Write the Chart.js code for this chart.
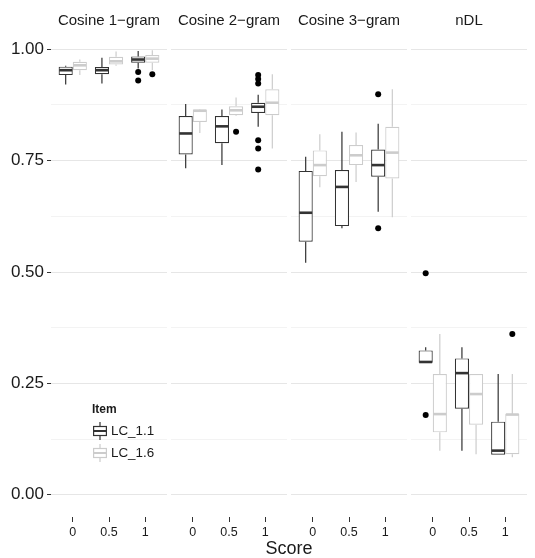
<!DOCTYPE html>
<html>
<head>
<meta charset="utf-8">
<script src="https://cdn.jsdelivr.net/npm/chart.js@4.4.1/dist/chart.umd.min.js"></script>
<style>
  body { margin: 0; background: #fff; font-family: 'Liberation Sans', Arial, sans-serif; }
  #wrap { position: relative; width: 535px; height: 558px; background: #fff; }
  canvas { position: absolute; top: 0; }
  .strip { position: absolute; top: 12px; width: 116px; text-align: center; font-size: 15px; line-height: 16px; color: #1a1a1a; white-space: nowrap; }
  .lab { position: absolute; color: #1a1a1a; white-space: nowrap; }
</style>
</head>
<body>
<div id="wrap">
  <canvas id="c0" width="167" height="558" style="left:0px"></canvas>
  <canvas id="c1" width="116" height="558" style="left:171px"></canvas>
  <canvas id="c2" width="116" height="558" style="left:291px"></canvas>
  <canvas id="c3" width="116" height="558" style="left:411px"></canvas>
</div>
<script>
// categories
const painelTitulos = ['Cosine 1−gram', 'Cosine 2−gram', 'Cosine 3−gram', 'nDL'];
const scoreLabels = ['0', '0.5', '1'];
const itens = ['LC_1.1', 'LC_1.6'];
const yMajor = [0, 0.25, 0.5, 0.75, 1];
const yMinor = [0.125, 0.375, 0.625, 0.875];

// caixas: [min, q1, mediana, q3, max] para score 0, 0.5, 1
const cos1_lc11 = [[0.921, 0.942, 0.953, 0.961, 0.963], [0.923, 0.944, 0.953, 0.960, 0.981], [0.957, 0.970, 0.977, 0.984, 0.996]];
const cos1_lc16 = [[0.942, 0.953, 0.964, 0.972, 0.977], [0.963, 0.966, 0.973, 0.983, 0.995], [0.953, 0.970, 0.979, 0.987, 0.998]];
const cos2_lc11 = [[0.733, 0.764, 0.811, 0.850, 0.877], [0.740, 0.789, 0.827, 0.850, 0.865], [0.826, 0.857, 0.871, 0.880, 0.898]];
const cos2_lc16 = [[0.812, 0.837, 0.862, 0.865, 0.866], [0.850, 0.852, 0.863, 0.872, 0.892], [0.777, 0.852, 0.880, 0.910, 0.944]];
const cos3_lc11 = [[0.521, 0.568, 0.633, 0.727, 0.759], [0.598, 0.603, 0.691, 0.729, 0.815], [0.635, 0.714, 0.740, 0.775, 0.833]];
const cos3_lc16 = [[0.690, 0.715, 0.740, 0.773, 0.809], [0.702, 0.740, 0.762, 0.785, 0.813], [0.623, 0.710, 0.768, 0.826, 0.910]];
const ndl_lc11 = [[0.297, 0.296, 0.298, 0.324, 0.331], [0.099, 0.193, 0.273, 0.306, 0.331], [0.090, 0.090, 0.099, 0.164, 0.271]];
const ndl_lc16 = [[0.099, 0.140, 0.181, 0.271, 0.361], [0.091, 0.157, 0.226, 0.271, 0.271], [0.084, 0.091, 0.180, 0.181, 0.271]];

// outliers por score
const cos1_lc11_out = [[], [], [0.949, 0.930]];
const cos1_lc16_out = [[], [], [0.944]];
const cos2_lc11_out = [[], [], [0.942, 0.933, 0.923, 0.796, 0.777, 0.730]];
const cos2_lc16_out = [[], [0.815], []];
const cos3_lc11_out = [[], [], [0.899, 0.598]];
const cos3_lc16_out = [[], [], []];
const ndl_lc11_out = [[0.497, 0.179], [], []];
const ndl_lc16_out = [[], [], [0.361]];

const caixas = [[cos1_lc11, cos1_lc16], [cos2_lc11, cos2_lc16], [cos3_lc11, cos3_lc16], [ndl_lc11, ndl_lc16]];
const outliers = [[cos1_lc11_out, cos1_lc16_out], [cos2_lc11_out, cos2_lc16_out], [cos3_lc11_out, cos3_lc16_out], [ndl_lc11_out, ndl_lc16_out]];
const cores = ['#333333', '#cccccc'];
const fonte = "'Liberation Sans', Arial, sans-serif";

// desenha bigodes, medianas e outliers em cima das barras flutuantes
const boxplotExtras = {
  id: 'boxplotExtras',
  afterDatasetsDraw(chart) {
    const ctx = chart.ctx;
    const y = chart.scales.y;
    chart.data.datasets.forEach((ds, di) => {
      const meta = chart.getDatasetMeta(di);
      meta.data.forEach((bar, i) => {
        const s = ds.stats[i];
        const half = bar.width / 2;
        ctx.save();
        ctx.strokeStyle = ds.borderColor;
        ctx.lineWidth = 1.2;
        ctx.beginPath();
        ctx.moveTo(bar.x, y.getPixelForValue(s[3]));
        ctx.lineTo(bar.x, y.getPixelForValue(s[4]));
        ctx.moveTo(bar.x, y.getPixelForValue(s[1]));
        ctx.lineTo(bar.x, y.getPixelForValue(s[0]));
        ctx.stroke();
        ctx.lineWidth = 2.6;
        ctx.beginPath();
        ctx.moveTo(bar.x - half + 0.6, y.getPixelForValue(s[2]));
        ctx.lineTo(bar.x + half - 0.6, y.getPixelForValue(s[2]));
        ctx.stroke();
        ctx.fillStyle = '#000';
        ds.outliers[i].forEach(v => {
          ctx.beginPath();
          ctx.arc(bar.x, y.getPixelForValue(v), 3, 0, Math.PI * 2);
          ctx.fill();
        });
        ctx.restore();
      });
    });
  }
};

function criarPainel(p) {
  const primeiro = p === 0;
  const datasets = itens.map((item, k) => ({
    label: item,
    data: caixas[p][k].map((s, i) => ({ x: i, y: [s[1], s[3]] })),
    stats: caixas[p][k],
    outliers: outliers[p][k],
    backgroundColor: '#ffffff',
    borderColor: cores[k],
    borderWidth: 1.2,
    borderSkipped: false,
    categoryPercentage: 0.78,
    barPercentage: 1
  }));

  new Chart(document.getElementById('c' + p), {
    type: 'bar',
    data: { datasets },
    options: {
      responsive: false,
      animation: false,
      devicePixelRatio: 1,
      layout: { padding: { top: 27, left: 0, right: 0, bottom: 0 } },
      plugins: { legend: { display: false }, tooltip: { enabled: false }, title: { display: false } },
      scales: {
        x: {
          type: 'linear',
          min: -0.6,
          max: 2.6,
          offset: false,
          afterBuildTicks: (scale) => { scale.ticks = [0, 1, 2].map(v => ({ value: v })); },
          afterFit: (scale) => { scale.height = 41; },
          border: { display: false },
          grid: { display: true, offset: false, drawOnChartArea: false, drawTicks: true, tickLength: 5, tickColor: '#333', tickWidth: 1 },
          ticks: {
            autoSkip: false, maxRotation: 0, padding: 3,
            color: '#1a1a1a', font: { family: fonte, size: 12.5 },
            callback: (v) => scoreLabels[v]
          }
        },
        y: {
          min: -0.05,
          max: 1.05,
          afterBuildTicks: (scale) => {
            scale.ticks = yMajor.concat(yMinor).sort((a, b) => a - b).map(v => ({ value: v }));
          },
          afterFit: (scale) => { scale.width = primeiro ? 51 : 0; },
          border: { display: false },
          grid: {
            color: (c) => yMajor.includes(c.tick.value) ? '#e6e6e6' : '#f3f3f3',
            lineWidth: 1,
            drawTicks: primeiro,
            tickLength: 4,
            tickColor: (c) => yMajor.includes(c.tick.value) ? '#333' : 'rgba(0,0,0,0)'
          },
          ticks: {
            display: primeiro,
            padding: 3,
            color: '#1a1a1a',
            font: { family: fonte, size: 17 },
            callback: (v) => yMajor.includes(v) ? v.toFixed(2) : ''
          }
        }
      }
    },
    plugins: [boxplotExtras]
  });
}

painelTitulos.forEach((t, p) => criarPainel(p));

// textos em HTML: faixas, eixo e legenda
const wrap = document.getElementById('wrap');
const esquerdas = [51, 171, 291, 411];
painelTitulos.forEach((t, p) => {
  const d = document.createElement('div');
  d.className = 'strip';
  d.style.left = esquerdas[p] + 'px';
  d.textContent = t;
  wrap.appendChild(d);
});

function addTexto(txt, left, top, css) {
  const d = document.createElement('div');
  d.className = 'lab';
  d.style.left = left + 'px';
  d.style.top = top + 'px';
  d.style.cssText += css;
  d.textContent = txt;
  wrap.appendChild(d);
  return d;
}
addTexto('Score', 239, 539, 'width:100px;text-align:center;font-size:18px;line-height:18px;');

addTexto('Item', 92, 402, 'font-size:12px;line-height:14px;font-weight:bold;');
const legY = [431, 453];
itens.forEach((item, k) => {
  const svgNS = 'http://www.w3.org/2000/svg';
  const svg = document.createElementNS(svgNS, 'svg');
  svg.setAttribute('width', '16');
  svg.setAttribute('height', '20');
  svg.style.position = 'absolute';
  svg.style.left = '92px';
  svg.style.top = (legY[k] - 10) + 'px';
  svg.innerHTML =
    `<line x1="8" y1="1" x2="8" y2="19" stroke="${cores[k]}" stroke-width="1.2"/>` +
    `<rect x="1.6" y="5.5" width="12.8" height="9" fill="#fff" stroke="${cores[k]}" stroke-width="1.2"/>` +
    `<line x1="1.6" y1="10" x2="14.4" y2="10" stroke="${cores[k]}" stroke-width="2"/>`;
  wrap.appendChild(svg);
  addTexto(item, 111, legY[k] - 8, 'font-size:13.4px;line-height:16px;');
});
</script>
</body>
</html>
